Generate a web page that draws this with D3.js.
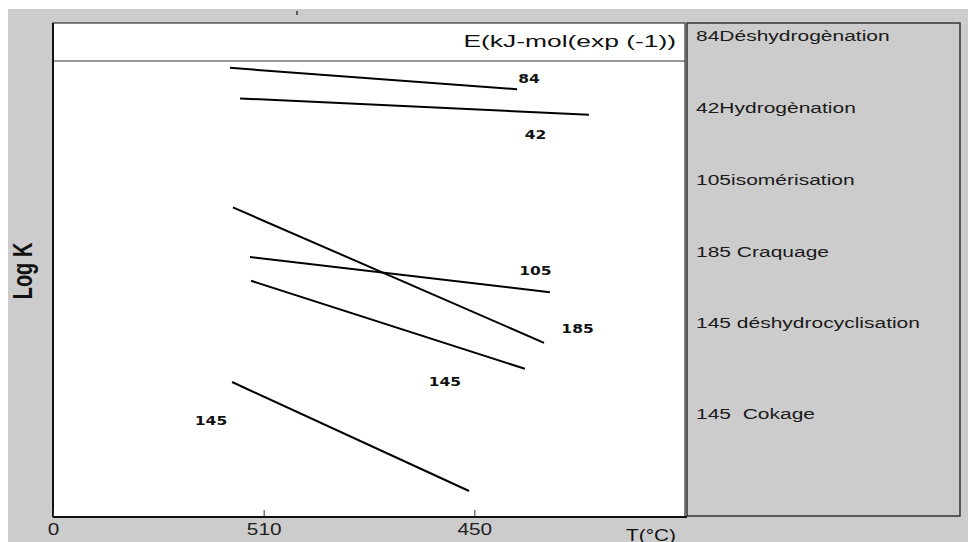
<!DOCTYPE html>
<html>
<head>
<meta charset="utf-8">
<script src="https://cdn.jsdelivr.net/npm/d3@7"></script>
<style>
  body { margin: 0; background: #fff; }
  text { font-family: Arial, "Liberation Sans", sans-serif; }
  .lbl { font-family: "DejaVu Sans", Verdana, sans-serif; font-weight: bold; font-size: 11.5px; fill: #111; }
  .leg { white-space: pre; }
</style>
</head>
<body>
<script>
var width = 968,
    height = 542;

// the picture is stretched sideways, so text gets the same stretch
var stretch = 1.4;

// x axis categories (tick positions are indices)
var xTicks = [0, 1, 2];
var xTickLabels = ["0", "510", "450"];

// legend entries
var legendItems = ["84Déshydrogènation", "42Hydrogènation", "105isomérisation",
    "185 Craquage", "145 déshydrocyclisation", "145  Cokage"];

// each line: start / end in axis units
var lineNames = ["84", "42", "105", "185", "145", "145"];
var lineStarts = [[0.84, 98.5], [0.888, 91.8], [0.935, 57.0], [0.854, 67.9], [0.94, 51.8], [0.85, 29.6]];
var lineEnds = [[2.203, 93.8], [2.544, 88.2], [2.359, 49.3], [2.331, 38.2], [2.24, 32.5], [1.975, 5.7]];
var labelPos = [[2.26, 96.1], [2.29, 83.8], [2.29, 53.9], [2.49, 41.2], [1.86, 29.6], [0.75, 21.1]];

var plotLeft = 53, plotRight = 685, plotTop = 23, headerBottom = 61, plotBottom = 517;

var x = d3.scaleLinear().domain([0, 3]).range([plotLeft, plotRight]);
var y = d3.scaleLinear().domain([0, 100]).range([plotBottom, headerBottom]);

var svg = d3.select("body")
    .append("svg")
    .attr("width", width)
    .attr("height", height);

// grey panel
svg.append("rect")
    .attr("x", 8).attr("y", 9)
    .attr("width", width - 8).attr("height", height - 9)
    .style("fill", "#cccccc");

// small mark left at the top
svg.append("line")
    .attr("x1", 297).attr("x2", 297).attr("y1", 11).attr("y2", 15)
    .style("stroke", "#333").style("stroke-width", 1.5);

// plot area
svg.append("rect")
    .attr("x", plotLeft).attr("y", plotTop)
    .attr("width", plotRight - plotLeft).attr("height", plotBottom - plotTop)
    .style("fill", "#fff")
    .style("stroke", "#333")
    .style("stroke-width", 1.2);

svg.append("line")
    .attr("x1", plotLeft).attr("x2", plotRight)
    .attr("y1", headerBottom).attr("y2", headerBottom)
    .style("stroke", "#333").style("stroke-width", 1.2);

svg.append("line")
    .attr("x1", plotLeft).attr("x2", plotLeft)
    .attr("y1", plotTop).attr("y2", plotBottom)
    .style("stroke", "#111").style("stroke-width", 2);

svg.append("text")
    .attr("transform", "translate(" + (plotRight - 9) + ",47) scale(1.65,1)")
    .attr("text-anchor", "end")
    .style("font-size", "16px")
    .style("fill", "#111")
    .text("E(kJ-mol(exp (-1))");

// x axis
var xAxis = d3.axisBottom(x)
    .tickValues(xTicks)
    .tickFormat(function(d, i) { return xTickLabels[i]; })
    .tickSizeInner(-7)
    .tickSizeOuter(0)
    .tickPadding(7);

var gx = svg.append("g")
    .attr("transform", "translate(0," + plotBottom + ")")
    .call(xAxis);
gx.select(".domain").attr("d", "M" + plotLeft + ",0H" + (plotRight + 2)).style("stroke", "#111").style("stroke-width", 2);
gx.selectAll(".tick line").style("stroke", "#333");
gx.selectAll(".tick text")
    .attr("transform", "scale(1.3,1)")
    .style("font-family", "Arial, 'Liberation Sans', sans-serif")
    .style("font-size", "16px")
    .style("fill", "#222");

svg.append("text")
    .attr("transform", "translate(651,541) scale(1.3,1)")
    .attr("text-anchor", "middle")
    .style("font-size", "16px")
    .style("fill", "#111")
    .text("T(°C)");

svg.append("text")
    .attr("transform", "translate(32,271) scale(" + stretch + ",1) rotate(-90)")
    .attr("text-anchor", "middle")
    .style("font-size", "20px")
    .style("font-weight", "bold")
    .style("fill", "#111")
    .text("Log K");

// lines
svg.selectAll("line.series")
    .data(lineStarts)
    .enter()
    .append("line")
    .attr("class", "series")
    .attr("x1", function(d) { return x(d[0]); })
    .attr("y1", function(d) { return y(d[1]); })
    .attr("x2", function(d, i) { return x(lineEnds[i][0]); })
    .attr("y2", function(d, i) { return y(lineEnds[i][1]); })
    .style("stroke", "#000")
    .style("stroke-width", 2);

svg.selectAll("text.lbl")
    .data(labelPos)
    .enter()
    .append("text")
    .attr("class", "lbl")
    .attr("transform", function(d) { return "translate(" + x(d[0]) + "," + y(d[1]) + ") scale(1.35,1)"; })
    .attr("dy", "0.35em")
    .attr("text-anchor", "middle")
    .text(function(d, i) { return lineNames[i]; });

// legend box
svg.append("rect")
    .attr("x", 687).attr("y", 23)
    .attr("width", 273).attr("height", 493)
    .style("fill", "#cccccc")
    .style("stroke", "#333")
    .style("stroke-width", 1.5);

var legendY = [36, 108, 180, 252, 323, 414];
svg.selectAll("text.leg")
    .data(legendItems)
    .enter()
    .append("text")
    .attr("class", "leg")
    .attr("transform", function(d, i) { return "translate(696," + legendY[i] + ") scale(" + stretch + ",1)"; })
    .attr("dy", "0.35em")
    .style("font-size", "15px")
    .style("fill", "#1a1a1a")
    .text(function(d) { return d; });
</script>
</body>
</html>
